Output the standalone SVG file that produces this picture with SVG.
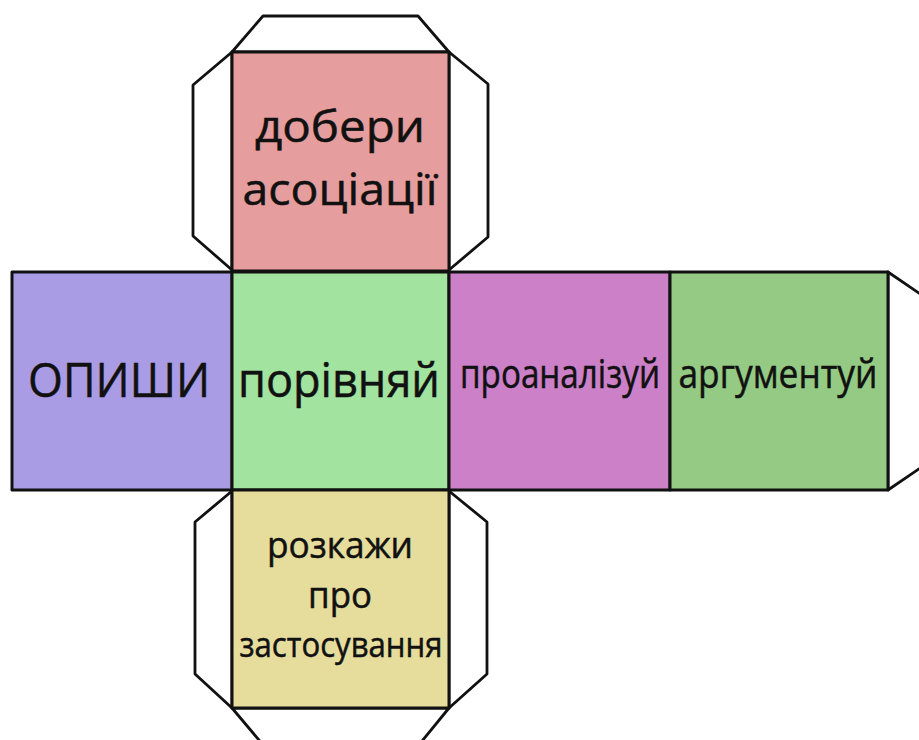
<svg xmlns="http://www.w3.org/2000/svg" width="919" height="740" viewBox="0 0 919 740">
<style>
.face{stroke:#111;stroke-width:3;stroke-linejoin:round}
.tab{fill:#fff;stroke:#111;stroke-width:2.8;stroke-linejoin:round}
.t{font-family:"Open Sans","Noto Sans",sans-serif;fill:#111;stroke:#111;stroke-width:0.5;text-anchor:middle}
</style>
<rect width="919" height="740" fill="#fff"/>
<g id="tabs">
<polygon class="tab" points="232,52 263,16 418,16 449,52"/>
<polygon class="tab" points="232,52 193,85 193,236 232,270"/>
<polygon class="tab" points="449,52 488,84 488,237 449,270"/>
<polygon class="tab" points="232,491 195,522 195,674 232,708"/>
<polygon class="tab" points="449,491 487,522 487,674 449,708"/>
<polygon class="tab" points="232,708 264,746 418,746 449,708"/>
<polygon class="tab" points="888,272 932,302 932,460 888,490"/>
</g>
<g id="face-top">
<rect class="face" x="232" y="52" width="217" height="219" fill="#e59d9d"/>
<text class="t" x="340" y="142" font-size="43" textLength="170" lengthAdjust="spacingAndGlyphs">добери</text>
<text class="t" x="340" y="205" font-size="43" textLength="195" lengthAdjust="spacingAndGlyphs">асоціації</text>
</g>
<g id="face-left">
<rect class="face" x="12" y="272" width="220" height="218" fill="#a99ce4"/>
<text class="t" x="119" y="397" font-size="47" textLength="182" lengthAdjust="spacingAndGlyphs">ОПИШИ</text>
</g>
<g id="face-center">
<rect class="face" x="232" y="272" width="217" height="218" fill="#a1e39f"/>
<text class="t" x="339" y="397" font-size="47" textLength="202" lengthAdjust="spacingAndGlyphs">порівняй</text>
</g>
<g id="face-right1">
<rect class="face" x="449" y="272" width="221" height="218" fill="#cc80c8"/>
<text class="t" x="560" y="388" font-size="40" textLength="200" lengthAdjust="spacingAndGlyphs">проаналізуй</text>
</g>
<g id="face-right2">
<rect class="face" x="670" y="272" width="218" height="218" fill="#94ca84"/>
<text class="t" x="778" y="388" font-size="40" textLength="199" lengthAdjust="spacingAndGlyphs">аргументуй</text>
</g>
<g id="face-bottom">
<rect class="face" x="232" y="490" width="217" height="218" fill="#e6dd9d"/>
<text class="t" x="340" y="558" font-size="37" textLength="146" lengthAdjust="spacingAndGlyphs">розкажи</text>
<text class="t" x="340" y="608" font-size="36" textLength="64" lengthAdjust="spacingAndGlyphs">про</text>
<text class="t" x="341" y="657" font-size="34" textLength="203" lengthAdjust="spacingAndGlyphs">застосування</text>
</g>
</svg>
